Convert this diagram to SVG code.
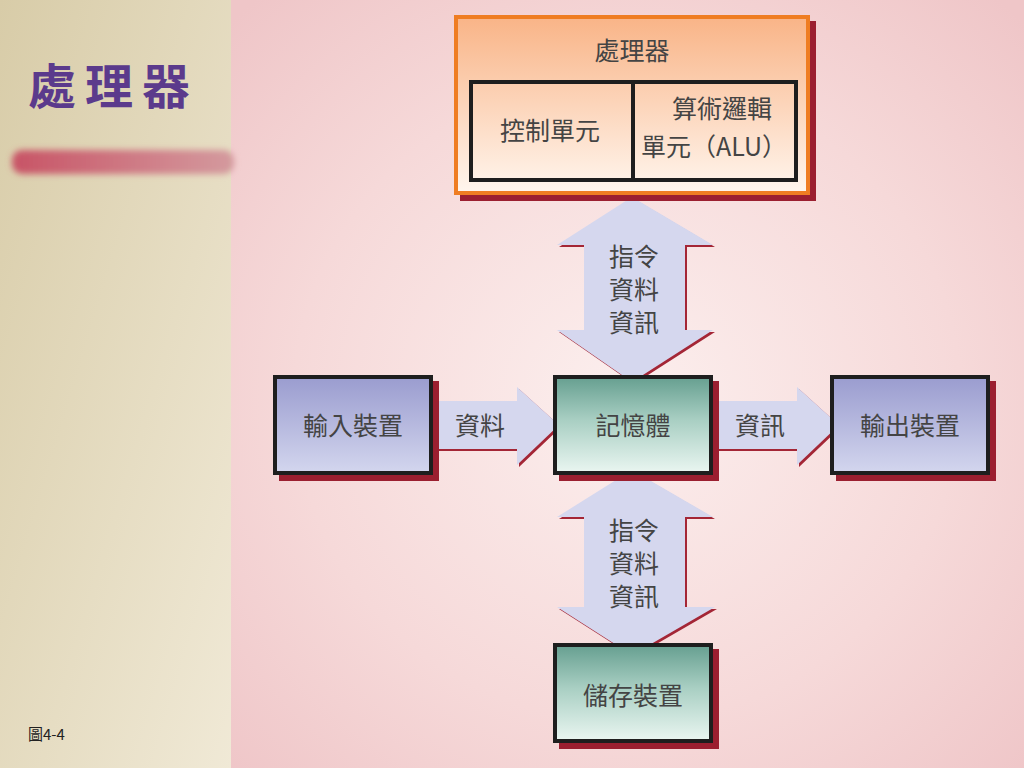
<svg xmlns="http://www.w3.org/2000/svg" width="1024" height="768" viewBox="0 0 1024 768">
<defs>
<linearGradient id="side" x1="0" y1="0" x2="1" y2="1">
<stop offset="0" stop-color="#d8cca8"/>
<stop offset="1" stop-color="#f0e9d6"/>
</linearGradient>
<radialGradient id="bg" cx="0.5" cy="0.52" r="0.7">
<stop offset="0" stop-color="#fcefee"/>
<stop offset="0.6" stop-color="#f6d9d9"/>
<stop offset="1" stop-color="#efc6c8"/>
</radialGradient>
<linearGradient id="proc" x1="0" y1="0" x2="0" y2="1">
<stop offset="0" stop-color="#f9b487"/>
<stop offset="1" stop-color="#fff6ee"/>
</linearGradient>
<linearGradient id="teal" x1="0" y1="0" x2="0" y2="1">
<stop offset="0" stop-color="#669f90"/>
<stop offset="0.45" stop-color="#a9cfc3"/>
<stop offset="1" stop-color="#eaf6f1"/>
</linearGradient>
<linearGradient id="blue" x1="0" y1="0" x2="0" y2="1">
<stop offset="0" stop-color="#9a9ccf"/>
<stop offset="1" stop-color="#d3d6ee"/>
</linearGradient>
<linearGradient id="bar" x1="0" y1="0" x2="1" y2="0">
<stop offset="0" stop-color="#c85466"/>
<stop offset="1" stop-color="#d49a9e"/>
</linearGradient>
<filter id="blur" x="-10%" y="-50%" width="120%" height="200%">
<feGaussianBlur stdDeviation="3"/>
</filter>
</defs>
<style>
.t{font-family:"Noto Sans CJK TC","Noto Sans CJK SC",sans-serif;fill:#444;font-size:25px;text-anchor:middle}
.sh{fill:#9b1f30}
.box{stroke:#1e1e1e;stroke-width:4}
.arr{fill:#d5d7ee}
.ash{fill:#a42636}
</style>
<rect x="0" y="0" width="232" height="768" fill="url(#side)"/>
<rect x="231" y="0" width="793" height="768" fill="url(#bg)"/>
<rect x="12" y="150" width="222" height="24" rx="10" fill="url(#bar)" filter="url(#blur)"/>
<text x="28" y="104" style="font-family:'Noto Sans CJK TC','Noto Sans CJK SC',serif;font-size:48px;font-weight:bold;fill:#5b3a8c;letter-spacing:9px">處理器</text>
<text x="28" y="740" style="font-family:'Noto Sans CJK TC','Liberation Sans',sans-serif;font-size:15px;fill:#222">圖4-4</text>

<g id="connectors">
<g id="arrow-top">
<polygon class="ash" points="634,199 715,247 687,247 687,332 715,332 634,384 559,332 586,332 586,247 559,247"/>
<polygon class="arr" points="632,197 713,245 685,245 685,330 713,330 632,382 557,330 584,330 584,245 557,245"/>
<text class="t" x="634" y="266">指令</text>
<text class="t" x="634" y="299">資料</text>
<text class="t" x="634" y="332">資訊</text>
</g>
<g id="arrow-bottom">
<polygon class="ash" points="634,472 715,519 687,519 687,609 717,609 634,657 559,609 586,609 586,519 559,519"/>
<polygon class="arr" points="632,470 713,517 685,517 685,607 715,607 632,655 557,607 584,607 584,517 557,517"/>
<text class="t" x="634" y="540">指令</text>
<text class="t" x="634" y="573">資料</text>
<text class="t" x="634" y="606">資訊</text>
</g>
<g id="arrow-left">
<polygon class="ash" points="433,403 519,403 519,389 561,427 519,467 519,451 433,451"/>
<polygon class="arr" points="433,401 517,401 517,387 559,425 517,465 517,449 433,449"/>
<text class="t" x="480" y="435">資料</text>
</g>
<g id="arrow-right">
<polygon class="ash" points="713,403 799,403 799,389 841,427 799,467 799,451 713,451"/>
<polygon class="arr" points="713,401 797,401 797,387 839,425 797,465 797,449 713,449"/>
<text class="t" x="760" y="435">資訊</text>
</g>
</g>

<g id="processor">
<rect class="sh" x="460" y="21" width="356" height="180"/>
<rect x="456" y="17" width="352" height="176" fill="url(#proc)" stroke="#ef7d22" stroke-width="4"/>
<text class="t" x="632" y="60">處理器</text>
<rect x="471" y="82" width="325" height="98" fill="none" class="box"/>
<line x1="633" y1="82" x2="633" y2="180" class="box"/>
<text class="t" x="550" y="140">控制單元</text>
<text class="t" x="722" y="118">算術邏輯</text>
<text class="t" x="714" y="156">單元（ALU）</text>
</g>

<g id="memory">
<rect class="sh" x="559" y="381" width="160" height="100"/>
<rect x="555" y="377" width="156" height="96" fill="url(#teal)" class="box"/>
<text class="t" x="633" y="435">記憶體</text>
</g>

<g id="input">
<rect class="sh" x="279" y="381" width="160" height="100"/>
<rect x="275" y="377" width="156" height="96" fill="url(#blue)" class="box"/>
<text class="t" x="353" y="435">輸入裝置</text>
</g>

<g id="output">
<rect class="sh" x="836" y="381" width="160" height="100"/>
<rect x="832" y="377" width="156" height="96" fill="url(#blue)" class="box"/>
<text class="t" x="910" y="435">輸出裝置</text>
</g>

<g id="storage">
<rect class="sh" x="559" y="649" width="160" height="100"/>
<rect x="555" y="645" width="156" height="96" fill="url(#teal)" class="box"/>
<text class="t" x="633" y="705">儲存裝置</text>
</g>
</svg>
